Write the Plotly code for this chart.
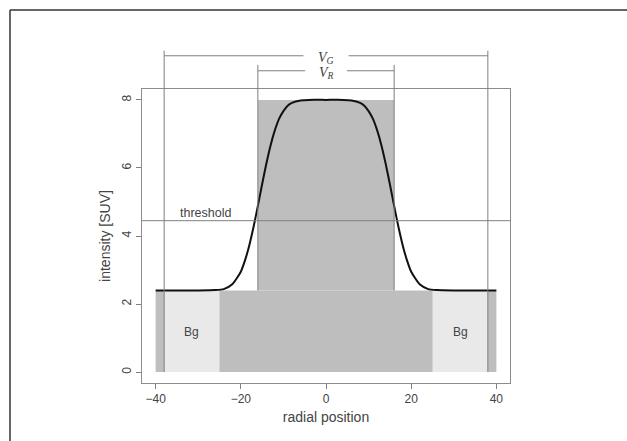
import plotly.graph_objects as go

# ---- data ----
curve_x = [-40, -30, -26, -24, -22, -20, -19, -18, -17, -16, -15, -14, -13, -12, -11, -10, -9, -8, -6, -4,
           0, 4, 6, 8, 9, 10, 11, 12, 13, 14, 15, 16, 17, 18, 19, 20, 22, 24, 26, 30, 40]
curve_y = [2.4, 2.4, 2.41, 2.44, 2.58, 2.95, 3.29, 3.73, 4.27, 4.88, 5.52, 6.13, 6.67, 7.11, 7.45, 7.67, 7.83, 7.91, 7.98, 8.0,
           8.0, 8.0, 7.98, 7.91, 7.83, 7.67, 7.45, 7.11, 6.67, 6.13, 5.52, 4.88, 4.27, 3.73, 3.29, 2.95, 2.58, 2.44, 2.41, 2.4, 2.4]

background_level = 2.4
peak_level = 8.0
threshold = 4.45
outer_edge = 40      # extent of the dark grey area
vg_edge = 38         # V_G boundary
vr_edge = 16         # V_R boundary
bg_inner = 25        # inner edge of the Bg regions
x_ticks = [-40, -20, 0, 20, 40]
y_ticks = [0, 2, 4, 6, 8]

x_range = [-43.2, 43.2]
y_range = [-0.32, 8.32]

def ypaper(v):
    return (v - y_range[0]) / (y_range[1] - y_range[0])

DARK = "#bebebe"
LIGHT = "#e9e9e9"
LINE = "#7f7f7f"
TXT = "#444444"

fig = go.Figure()
fig.add_trace(go.Scatter(x=curve_x, y=curve_y, mode="lines", line=dict(color="#111111", width=2, shape="spline", smoothing=0.6),
                         hoverinfo="skip", showlegend=False))

shapes = []
# grey areas
shapes.append(dict(type="rect", xref="x", yref="y", x0=-outer_edge, x1=outer_edge, y0=0, y1=background_level,
                   fillcolor=DARK, line_width=0, layer="below"))
shapes.append(dict(type="rect", xref="x", yref="y", x0=-vr_edge, x1=vr_edge, y0=background_level, y1=peak_level,
                   fillcolor=DARK, line_width=0, layer="below"))
for s in (-1, 1):
    shapes.append(dict(type="rect", xref="x", yref="y", x0=s * bg_inner, x1=s * vg_edge, y0=0, y1=background_level,
                       fillcolor=LIGHT, line_width=0, layer="below"))

# V_G / V_R brackets
vg_top, vg_bar, vg_gap = 1.130, 1.113, 5.3
vr_top, vr_bar, vr_gap = 1.082, 1.062, 4.9
for s in (-1, 1):
    shapes.append(dict(type="line", xref="x", yref="paper", x0=s * vg_edge, x1=s * vg_edge, y0=ypaper(0), y1=vg_top,
                       line=dict(color=LINE, width=1)))
    shapes.append(dict(type="line", xref="x", yref="paper", x0=s * vg_edge, x1=s * vg_gap, y0=vg_bar, y1=vg_bar,
                       line=dict(color=LINE, width=1)))
    shapes.append(dict(type="line", xref="x", yref="paper", x0=s * vr_edge, x1=s * vr_edge, y0=ypaper(background_level), y1=vr_top,
                       line=dict(color=LINE, width=1)))
    shapes.append(dict(type="line", xref="x", yref="paper", x0=s * vr_edge, x1=s * vr_gap, y0=vr_bar, y1=vr_bar,
                       line=dict(color=LINE, width=1)))

# threshold line
shapes.append(dict(type="line", xref="paper", yref="y", x0=0, x1=1, y0=threshold, y1=threshold,
                   line=dict(color=LINE, width=1)))

# figure border (top and left)
shapes.append(dict(type="line", xref="paper", yref="paper", x0=-0.3587, x1=1.4, y0=1.2687, y1=1.2687,
                   line=dict(color="#333333", width=1.5)))
shapes.append(dict(type="line", xref="paper", yref="paper", x0=-0.3587, x1=-0.3587, y0=1.2687, y1=-0.3,
                   line=dict(color="#333333", width=1.5)))

annotations = [
    dict(x=-28.4, y=threshold, xref="x", yref="y", text="threshold", showarrow=False, yanchor="bottom", yshift=-1,
         font=dict(family="Liberation Sans, Arial", size=12.5, color=TXT)),
    dict(x=-31.5, y=1.18, xref="x", yref="y", text="Bg", showarrow=False,
         font=dict(family="Liberation Sans, Arial", size=12, color=TXT)),
    dict(x=31.5, y=1.18, xref="x", yref="y", text="Bg", showarrow=False,
         font=dict(family="Liberation Sans, Arial", size=12, color=TXT)),
    dict(x=0, y=vg_bar, xref="x", yref="paper", text="<i>V</i><sub><i>G</i></sub>", showarrow=False, yshift=7,
         height=14, font=dict(family="Liberation Serif, serif", size=14, color=TXT)),
    dict(x=0, y=vr_bar, xref="x", yref="paper", text="<i>V</i><sub><i>R</i></sub>", showarrow=False, yshift=7,
         height=14, font=dict(family="Liberation Serif, serif", size=14, color=TXT)),
]

fig.update_layout(
    width=627, height=441,
    margin=dict(l=142, r=117, t=89, b=58),
    paper_bgcolor="white", plot_bgcolor="white",
    shapes=shapes, annotations=annotations,
    font=dict(family="Liberation Sans, Arial", size=12, color=TXT),
    xaxis=dict(range=x_range, tickvals=x_ticks, ticks="outside", ticklen=5, tickcolor=LINE,
               showline=True, mirror=True, linecolor="#8c8c8c", linewidth=1, showgrid=False, zeroline=False,
               title=dict(text="radial position", standoff=6), tickfont=dict(size=12)),
    yaxis=dict(range=y_range, tickvals=y_ticks, ticks="outside", ticklen=5, tickcolor=LINE, tickangle=-90,
               showline=True, mirror=True, linecolor="#8c8c8c", linewidth=1, showgrid=False, zeroline=False,
               title=dict(text="intensity [SUV]", standoff=6), tickfont=dict(size=12)),
)

fig.write_html("out.html", config={"displayModeBar": False},
               post_script="document.body.style.margin='0';document.body.style.overflow='hidden';")
